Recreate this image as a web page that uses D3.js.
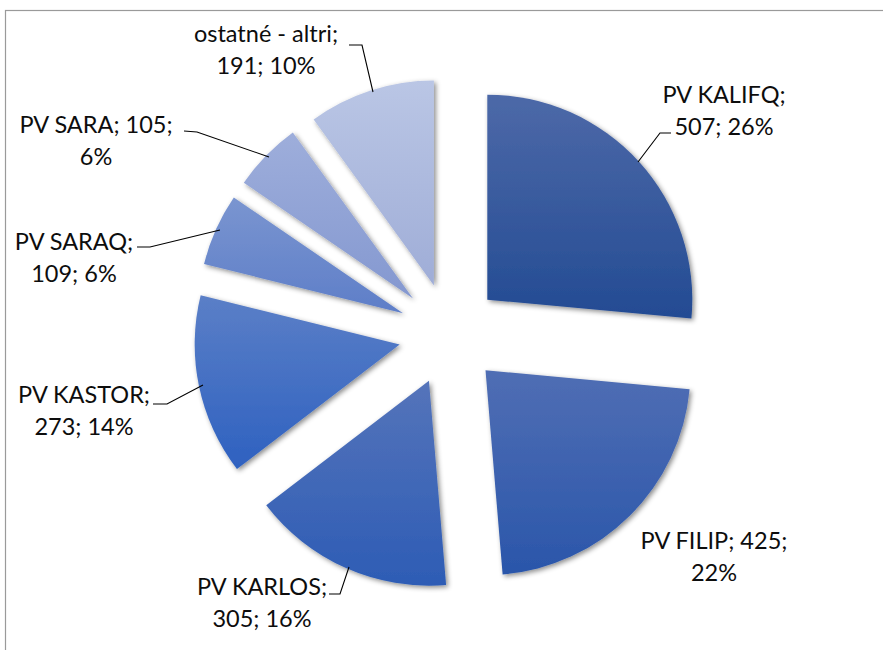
<!DOCTYPE html>
<html>
<head>
<meta charset="utf-8">
<script src="https://cdn.jsdelivr.net/npm/d3@7"></script>
<style>
  body { margin: 0; background: #fff; }
  text { font-family: Lato, "Open Sans", sans-serif; font-size: 23.5px; fill: #0d0d0d; }
</style>
</head>
<body>
<svg id="chart" width="883" height="650"></svg>
<script>
// data
var names = ['PV KALIFQ', 'PV FILIP', 'PV KARLOS', 'PV KASTOR', 'PV SARAQ', 'PV SARA', 'ostatné - altri'];
var values = [507, 425, 305, 273, 109, 105, 191];
var percents = ['26%', '22%', '16%', '14%', '6%', '6%', '10%'];

// each label: lines of text, centre x, first baseline
var labelLines = [
  ['PV KALIFQ;', '507; 26%'],
  ['PV FILIP; 425;', '22%'],
  ['PV KARLOS;', '305; 16%'],
  ['PV KASTOR;', '273; 14%'],
  ['PV SARAQ;', '109; 6%'],
  ['PV SARA; 105;', '6%'],
  ['ostatné - altri;', '191; 10%']
];
var labelPos = [[724, 103], [714, 549], [262, 595], [84, 403], [74, 250], [96, 133], [266, 42]];
// leader lines (label side -> slice edge)
var leaders = [
  [[671, 133], [660, 133], [638, 162]],
  null,
  [[329, 594], [340, 594], [349, 567]],
  [[153, 404], [167, 404], [203, 385]],
  [[137, 247], [150, 247], [220, 230]],
  [[184, 131], [197, 132], [269, 157]],
  [[349, 45], [362, 45], [373, 92]]
];

var topColors = ['#4d69a8', '#506eb4', '#5574ba', '#5b7fc7', '#7a95d0', '#9eaedb', '#bac6e5'];
var bottomColors = ['#234b93', '#2a56aa', '#2d5cb5', '#2e61c0', '#5e7ec8', '#8498d0', '#9fadd7'];

var svg = d3.select('#chart');
var cx = 449.6, cy = 334, radius = 205, explode = 51;

var defs = svg.append('defs');
var shadow = defs.append('filter').attr('id', 'shadow')
  .attr('x', '-20%').attr('y', '-20%').attr('width', '140%').attr('height', '140%');
shadow.append('feDropShadow')
  .attr('dx', 2).attr('dy', 2).attr('stdDeviation', 2.5)
  .attr('flood-color', '#000').attr('flood-opacity', 0.45);

topColors.forEach(function(c, i) {
  var g = defs.append('linearGradient').attr('id', 'grad' + i)
    .attr('x1', 0).attr('y1', 0).attr('x2', 0).attr('y2', 1);
  g.append('stop').attr('offset', '0%').attr('stop-color', c);
  g.append('stop').attr('offset', '100%').attr('stop-color', bottomColors[i]);
});

// chart border
svg.append('rect')
  .attr('x', 5.5).attr('y', 10.5)
  .attr('width', 900).attr('height', 700)
  .attr('fill', 'none')
  .attr('stroke', '#9a9a9a')
  .attr('stroke-width', 1.2);

var pie = d3.pie().sort(null).value(function(d) { return d; });
var arc = d3.arc().innerRadius(0).outerRadius(radius);
var arcs = pie(values);

svg.append('g')
  .attr('transform', 'translate(' + cx + ',' + cy + ')')
  .selectAll('path')
  .data(arcs)
  .enter()
  .append('path')
  .attr('d', arc)
  .attr('transform', function(d) {
    var mid = (d.startAngle + d.endAngle) / 2;
    return 'translate(' + (explode * Math.sin(mid)) + ',' + (-explode * Math.cos(mid)) + ')';
  })
  .attr('fill', function(d, i) { return 'url(#grad' + i + ')'; })
  .attr('filter', 'url(#shadow)');

var line = d3.line();
svg.append('g')
  .selectAll('path')
  .data(leaders.filter(function(l) { return l; }))
  .enter()
  .append('path')
  .attr('d', line)
  .attr('fill', 'none')
  .attr('stroke', '#000')
  .attr('stroke-width', 1.1);

var labels = svg.append('g')
  .selectAll('text')
  .data(labelLines)
  .enter()
  .append('text')
  .attr('text-anchor', 'middle')
  .attr('x', function(d, i) { return labelPos[i][0]; })
  .attr('y', function(d, i) { return labelPos[i][1]; });

labels.selectAll('tspan')
  .data(function(d, i) { return d.map(function(t) { return { t: t, x: labelPos[i][0] }; }); })
  .enter()
  .append('tspan')
  .attr('x', function(d) { return d.x; })
  .attr('dy', function(d, j) { return j === 0 ? 0 : 32; })
  .text(function(d) { return d.t; });
</script>
</body>
</html>
